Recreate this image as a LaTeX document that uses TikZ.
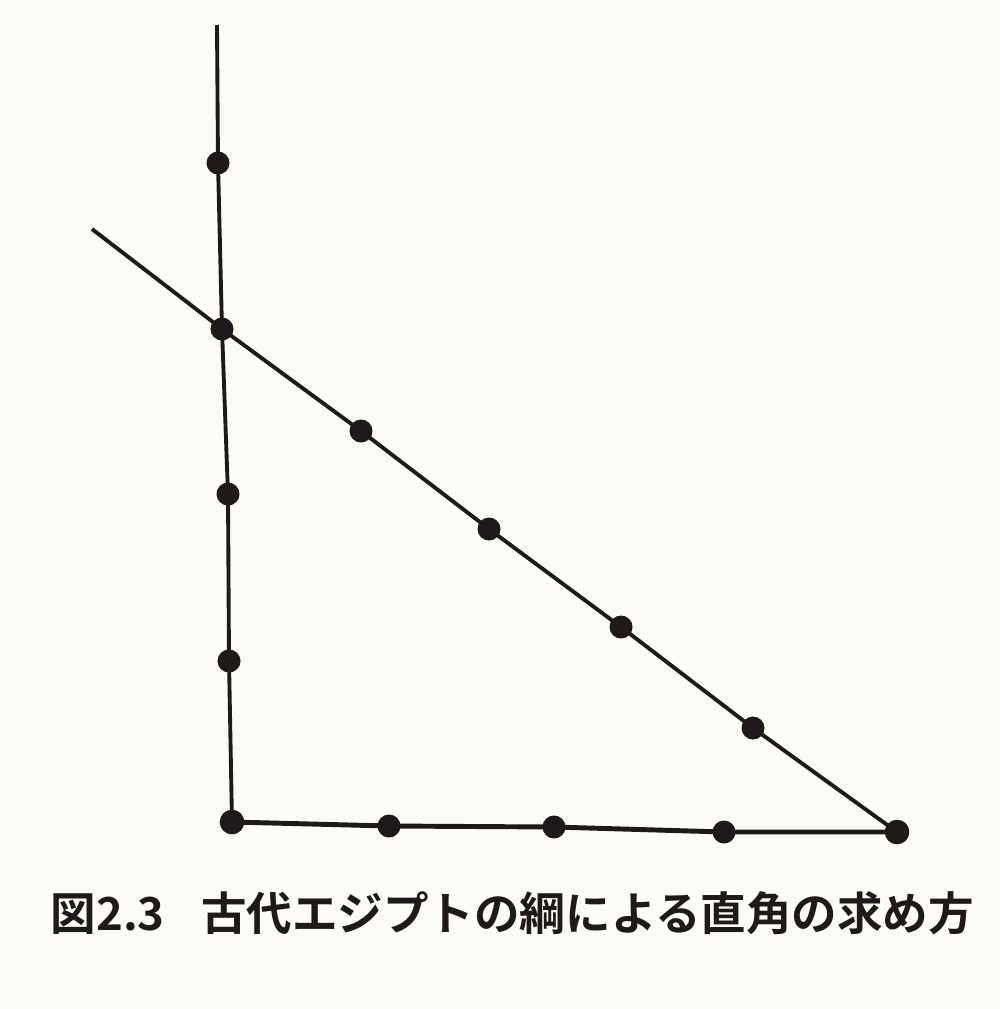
\documentclass[tikz,border=0pt]{standalone}
\usepackage{fontspec}
\newfontfamily\cjk{Noto Sans CJK JP Bold}
\definecolor{ink}{HTML}{1E1A1A}
\definecolor{paper}{HTML}{FBFBF8}
\tikzset{
  knot/.style={circle,fill=ink,draw=none,minimum size=23pt*0.2845,inner sep=0pt},
  rope/.style={draw=ink,line width=1.1pt},
}
\begin{document}
\begin{tikzpicture}[x=0.01cm,y=-0.01cm]
\fill[paper] (0,0) rectangle (1000,1009);
\useasboundingbox (0,0) rectangle (1000,1009);
% vertical knots
\node[knot] (v1) at (218,163) {};
\node[knot] (v2) at (222,329) {};
\node[knot] (v3) at (228,494) {};
\node[knot] (v4) at (229,661) {};
\node[knot,minimum size=7pt] (c) at (232,822) {};
% bottom knots
\node[knot] (b1) at (389,826) {};
\node[knot] (b2) at (554,827) {};
\node[knot] (b3) at (724,832) {};
\node[knot,minimum size=7pt] (e) at (897,832) {};
% diagonal knots
\node[knot] (d1) at (361,431) {};
\node[knot] (d2) at (489,529) {};
\node[knot] (d3) at (621,627) {};
\node[knot] (d4) at (753,728) {};
\coordinate (top) at (217,25);
\coordinate (dstart) at (92,229);
% ropes
\draw[rope] (top) -- (v1.center) -- (v2.center) -- (v3.center) -- (v4.center) -- (c.center);
\draw[rope,line width=1.4pt] (c.center) -- (b1.center) -- (b2.center) -- (b3.center) -- (e.center);
\draw[rope] (dstart) -- (v2.center) -- (d1.center) -- (d2.center) -- (d3.center) -- (d4.center) -- (e.center);
\node[anchor=west,inner sep=0pt,font=\cjk\fontsize{12.95pt}{15pt}\selectfont,text=ink] (cap) at (50,913) {図2.3\hspace{0.8em}古代エジプトの綱による直角の求め方};
\end{tikzpicture}
\end{document}
